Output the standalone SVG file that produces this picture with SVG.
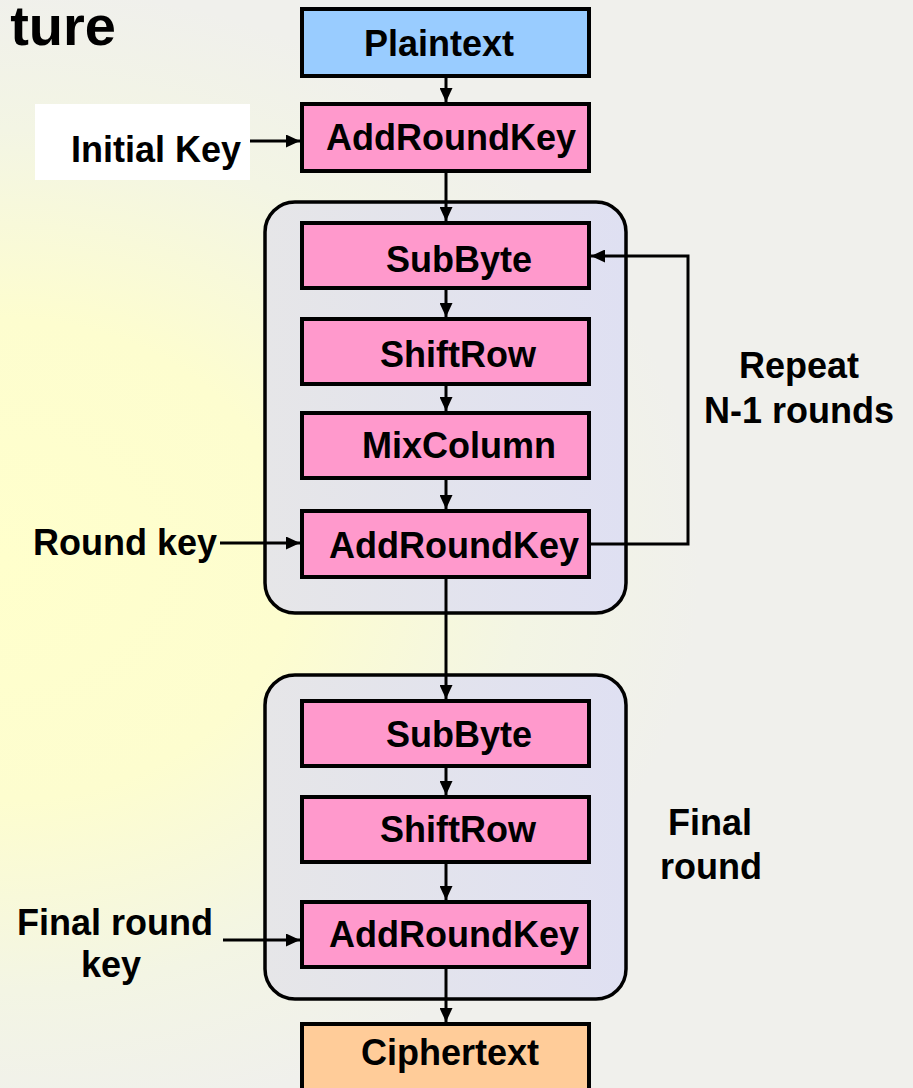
<svg xmlns="http://www.w3.org/2000/svg" width="913" height="1088" viewBox="0 0 913 1088">
  <defs>
    <radialGradient id="bg" gradientUnits="userSpaceOnUse" cx="0" cy="560" r="700" gradientTransform="translate(0 560) scale(1 0.82) translate(0 -560)">
      <stop offset="0" stop-color="#ffffcc"/>
      <stop offset="0.42" stop-color="#fdfdcf"/>
      <stop offset="0.75" stop-color="#f3f5e4"/>
      <stop offset="1" stop-color="#f0f0ec"/>
    </radialGradient>
    <linearGradient id="cont" x1="0" y1="0" x2="1" y2="0">
      <stop offset="0" stop-color="#e6e6e8"/>
      <stop offset="1" stop-color="#dfe0f2"/>
    </linearGradient>
    <marker id="arr" markerUnits="userSpaceOnUse" markerWidth="14" markerHeight="13" refX="14" refY="6.5" orient="auto">
      <path d="M0,0 L14,6.5 L0,13 Z" fill="#000"/>
    </marker>
    <style>
      .box { stroke: #000; stroke-width: 4; }
      .step { fill: #ff99cc; }
      .cont { fill: url(#cont); stroke: #000; stroke-width: 3.5; }
      .lbl { font-family: "Liberation Sans", Arial, sans-serif; font-weight: bold; font-size: 36px; fill: #000; text-anchor: middle; }
      .con { fill: none; stroke: #000; stroke-width: 3; marker-end: url(#arr); }
    </style>
  </defs>

  <rect x="0" y="0" width="913" height="1088" fill="url(#bg)"/>

  <text x="116" y="45" font-family="Liberation Sans, Arial, sans-serif" font-weight="bold" font-size="56" text-anchor="end">ture</text>

  <g id="container-rounds">
    <rect class="cont" x="265" y="202" width="361" height="411" rx="30"/>
  </g>
  <g id="container-final">
    <rect class="cont" x="265" y="675" width="361" height="324" rx="30"/>
  </g>

  <g id="connectors">
    <path class="con" d="M446,78 V102"/>
    <path class="con" d="M446,173 V221"/>
    <path class="con" d="M446,290 V317"/>
    <path class="con" d="M446,386 V411"/>
    <path class="con" d="M446,480 V509"/>
    <path class="con" d="M446,579 V699"/>
    <path class="con" d="M446,768 V795"/>
    <path class="con" d="M446,864 V900"/>
    <path class="con" d="M446,969 V1022"/>
    <path class="con" d="M250,141 H300"/>
    <path class="con" d="M220,543 H300"/>
    <path class="con" d="M223,940 H300"/>
    <path class="con" d="M591,544 H688 V256 H591"/>
  </g>

  <g id="plaintext">
    <rect class="box" x="302" y="9" width="287" height="67" fill="#99ccff"/>
    <text class="lbl" x="439" y="56">Plaintext</text>
  </g>
  <g id="initial-key">
    <rect x="35" y="104" width="215" height="76" fill="#ffffff"/>
    <text class="lbl" x="156" y="162">Initial Key</text>
  </g>
  <g id="addroundkey-initial">
    <rect class="box step" x="302" y="104" width="287" height="67"/>
    <text class="lbl" x="451" y="150">AddRoundKey</text>
  </g>
  <g id="subbyte">
    <rect class="box step" x="302" y="223" width="287" height="65"/>
    <text class="lbl" x="459" y="272">SubByte</text>
  </g>
  <g id="shiftrow">
    <rect class="box step" x="302" y="319" width="287" height="65"/>
    <text class="lbl" x="458" y="367">ShiftRow</text>
  </g>
  <g id="mixcolumn">
    <rect class="box step" x="302" y="413" width="287" height="65"/>
    <text class="lbl" x="459" y="458">MixColumn</text>
  </g>
  <g id="addroundkey-round">
    <rect class="box step" x="302" y="511" width="287" height="66"/>
    <text class="lbl" x="454" y="558">AddRoundKey</text>
  </g>
  <g id="round-key">
    <text class="lbl" x="125" y="555">Round key</text>
  </g>
  <g id="repeat-label">
    <text class="lbl" x="799" y="378">Repeat</text>
    <text class="lbl" x="799" y="423">N-1 rounds</text>
  </g>
  <g id="subbyte-final">
    <rect class="box step" x="302" y="701" width="287" height="65"/>
    <text class="lbl" x="459" y="747">SubByte</text>
  </g>
  <g id="shiftrow-final">
    <rect class="box step" x="302" y="797" width="287" height="65"/>
    <text class="lbl" x="458" y="842">ShiftRow</text>
  </g>
  <g id="addroundkey-final">
    <rect class="box step" x="302" y="902" width="287" height="65"/>
    <text class="lbl" x="454" y="947">AddRoundKey</text>
  </g>
  <g id="final-round-key">
    <text class="lbl" x="115" y="935">Final round</text>
    <text class="lbl" x="111" y="977">key</text>
  </g>
  <g id="final-round-label">
    <text class="lbl" x="710" y="835">Final</text>
    <text class="lbl" x="711" y="879">round</text>
  </g>
  <g id="ciphertext">
    <rect class="box" x="302" y="1024" width="287" height="80" fill="#ffcc99"/>
    <text class="lbl" x="450" y="1065">Ciphertext</text>
  </g>
</svg>
